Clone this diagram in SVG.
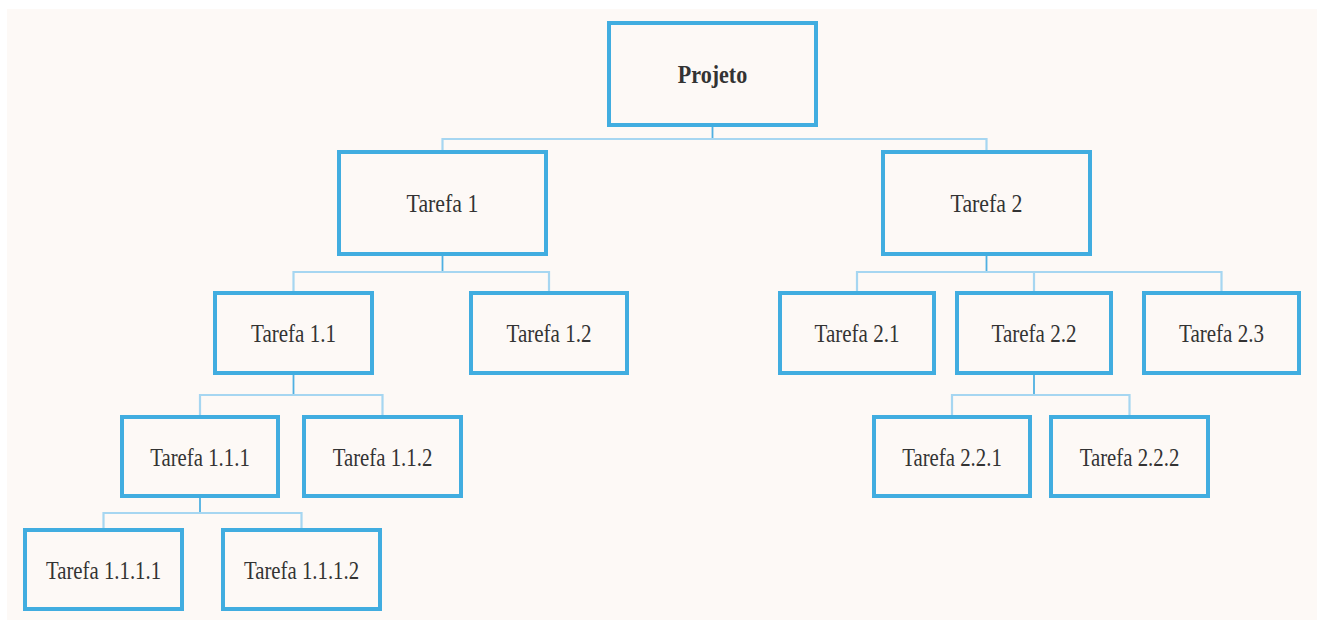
<svg xmlns="http://www.w3.org/2000/svg" width="1323" height="620" viewBox="0 0 1323 620">
  <style>
    .box { fill: #fdf9f6; stroke: #41ade0; stroke-width: 4; }
    .lbl { font-family: "Liberation Serif", "Times New Roman", serif; font-size: 26px; fill: #333333; text-anchor: middle; }
    .bold { font-weight: bold; }
    .stem { stroke: #4fb0e2; stroke-width: 1.8; fill: none; }
    .bus { stroke: #a6d6f1; stroke-width: 2.2; fill: none; }
  </style>

  <!-- page background -->
  <rect x="0" y="0" width="1323" height="620" fill="#ffffff"/>
  <rect x="7" y="9" width="1310" height="611" fill="#fdf9f6"/>

  <!-- connectors -->
  <g id="connectors">
    <!-- Projeto -> Tarefa 1, Tarefa 2 -->
    <path class="stem" d="M712.5 127 V139"/>
    <path class="bus" d="M442.5 150 V139 H986.5 V150"/>
    <!-- Tarefa 1 -> 1.1, 1.2 -->
    <path class="stem" d="M442.5 256 V272"/>
    <path class="bus" d="M293.5 291 V272 H549 V291"/>
    <!-- Tarefa 2 -> 2.1, 2.2, 2.3 -->
    <path class="stem" d="M986.5 256 V272"/>
    <path class="bus" d="M857 291 V272 H1221.5 V291 M1034 272 V291"/>
    <!-- Tarefa 1.1 -> 1.1.1, 1.1.2 -->
    <path class="stem" d="M293.5 375 V395"/>
    <path class="bus" d="M200 415 V395 H382.5 V415"/>
    <!-- Tarefa 2.2 -> 2.2.1, 2.2.2 -->
    <path class="stem" d="M1034 375 V395"/>
    <path class="bus" d="M952 415 V395 H1129.5 V415"/>
    <!-- Tarefa 1.1.1 -> 1.1.1.1, 1.1.1.2 -->
    <path class="stem" d="M200 498 V513"/>
    <path class="bus" d="M103.5 528 V513 H301.5 V528"/>
  </g>

  <!-- nodes -->
  <g id="projeto">
    <rect class="box" x="609" y="23" width="207" height="102"/>
    <text class="lbl bold" transform="matrix(0.85 0 0 1 712.5 83)">Projeto</text>
  </g>
  <g id="tarefa-1">
    <rect class="box" x="339" y="152" width="207" height="102"/>
    <text class="lbl" transform="matrix(0.84 0 0 1 442.5 212)">Tarefa 1</text>
  </g>
  <g id="tarefa-2">
    <rect class="box" x="883" y="152" width="207" height="102"/>
    <text class="lbl" transform="matrix(0.84 0 0 1 986.5 212)">Tarefa 2</text>
  </g>
  <g id="tarefa-1-1">
    <rect class="box" x="215" y="293" width="157" height="80"/>
    <text class="lbl" transform="matrix(0.81 0 0 1 293.5 342)">Tarefa 1.1</text>
  </g>
  <g id="tarefa-1-2">
    <rect class="box" x="471" y="293" width="156" height="80"/>
    <text class="lbl" transform="matrix(0.81 0 0 1 549 342)">Tarefa 1.2</text>
  </g>
  <g id="tarefa-2-1">
    <rect class="box" x="780" y="293" width="154" height="80"/>
    <text class="lbl" transform="matrix(0.81 0 0 1 857 342)">Tarefa 2.1</text>
  </g>
  <g id="tarefa-2-2">
    <rect class="box" x="957" y="293" width="154" height="80"/>
    <text class="lbl" transform="matrix(0.81 0 0 1 1034 342)">Tarefa 2.2</text>
  </g>
  <g id="tarefa-2-3">
    <rect class="box" x="1144" y="293" width="155" height="80"/>
    <text class="lbl" transform="matrix(0.81 0 0 1 1221.5 342)">Tarefa 2.3</text>
  </g>
  <g id="tarefa-1-1-1">
    <rect class="box" x="122" y="417" width="156" height="79"/>
    <text class="lbl" transform="matrix(0.8 0 0 1 200 466)">Tarefa 1.1.1</text>
  </g>
  <g id="tarefa-1-1-2">
    <rect class="box" x="304" y="417" width="157" height="79"/>
    <text class="lbl" transform="matrix(0.8 0 0 1 382.5 466)">Tarefa 1.1.2</text>
  </g>
  <g id="tarefa-2-2-1">
    <rect class="box" x="874" y="417" width="156" height="79"/>
    <text class="lbl" transform="matrix(0.8 0 0 1 952 466)">Tarefa 2.2.1</text>
  </g>
  <g id="tarefa-2-2-2">
    <rect class="box" x="1051" y="417" width="157" height="79"/>
    <text class="lbl" transform="matrix(0.8 0 0 1 1129.5 466)">Tarefa 2.2.2</text>
  </g>
  <g id="tarefa-1-1-1-1">
    <rect class="box" x="25" y="530" width="157" height="79"/>
    <text class="lbl" transform="matrix(0.8 0 0 1 103.5 579)">Tarefa 1.1.1.1</text>
  </g>
  <g id="tarefa-1-1-1-2">
    <rect class="box" x="223" y="530" width="157" height="79"/>
    <text class="lbl" transform="matrix(0.8 0 0 1 301.5 579)">Tarefa 1.1.1.2</text>
  </g>
</svg>
